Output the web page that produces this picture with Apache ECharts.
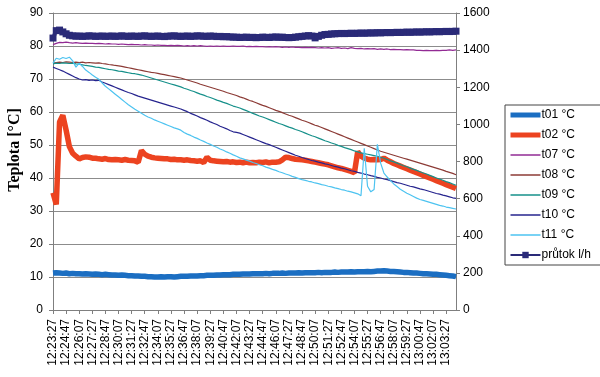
<!DOCTYPE html>
<html>
<head>
<meta charset="utf-8">
<script src="https://cdn.jsdelivr.net/npm/echarts@6/dist/echarts.min.js"></script>
<style>
  html, body { margin: 0; padding: 0; background: #fff; }
  #chart { width: 600px; height: 377px; }
</style>
</head>
<body>
<div id="chart"></div>
<script>
// time stamps, one sample every 20 s
let times = [
  "12:23:27","12:23:47","12:24:07","12:24:27", "12:24:47","12:25:07","12:25:27","12:25:47",
  "12:26:07","12:26:27","12:26:47","12:27:07", "12:27:27","12:27:47","12:28:07","12:28:27",
  "12:28:47","12:29:07","12:29:27","12:29:47", "12:30:07","12:30:27","12:30:47","12:31:07",
  "12:31:27","12:31:47","12:32:07","12:32:27", "12:32:47","12:33:07","12:33:27","12:33:47",
  "12:34:07","12:34:27","12:34:47","12:35:07", "12:35:27","12:35:47","12:36:07","12:36:27",
  "12:36:47","12:37:07","12:37:27","12:37:47", "12:38:07","12:38:27","12:38:47","12:39:07",
  "12:39:27","12:39:47","12:40:07","12:40:27", "12:40:47","12:41:07","12:41:27","12:41:47",
  "12:42:07","12:42:27","12:42:47","12:43:07", "12:43:27","12:43:47","12:44:07","12:44:27",
  "12:44:47","12:45:07","12:45:27","12:45:47", "12:46:07","12:46:27","12:46:47","12:47:07",
  "12:47:27","12:47:47","12:48:07","12:48:27", "12:48:47","12:49:07","12:49:27","12:49:47",
  "12:50:07","12:50:27","12:50:47","12:51:07", "12:51:27","12:51:47","12:52:07","12:52:27",
  "12:52:47","12:53:07","12:53:27","12:53:47", "12:54:07","12:54:27","12:54:47","12:55:07",
  "12:55:27","12:55:47","12:56:07","12:56:27", "12:56:47","12:57:07","12:57:27","12:57:47",
  "12:58:07","12:58:27","12:58:47","12:59:07", "12:59:27","12:59:47","13:00:07","13:00:27",
  "13:00:47","13:01:07","13:01:27","13:01:47", "13:02:07","13:02:27","13:02:47","13:03:07",
  "13:03:27","13:03:47","13:04:07","13:04:27"
];

let t01 = [
  11.2,11.3,11.2,11.1, 11.2,11.0,11.1,11.0, 11.0,10.9,11.0,10.9, 10.8,10.9,10.8,10.7,
  10.8,10.7,10.6,10.6, 10.5,10.6,10.5,10.4, 10.4,10.3,10.3,10.2, 10.2,10.1,10.1,10.0,
  10.0,10.1,10.0,10.1, 10.1,10.0,10.1,10.2, 10.2,10.2,10.3,10.3, 10.3,10.4,10.4,10.5,
  10.5,10.5,10.6,10.6, 10.7,10.7,10.7,10.8, 10.8,10.8,10.9,10.9, 10.9,11.0,11.0,11.0,
  11.0,11.1,11.0,11.1, 11.1,11.1,11.2,11.1, 11.2,11.2,11.2,11.3, 11.2,11.3,11.3,11.3,
  11.3,11.4,11.3,11.4, 11.4,11.4,11.5,11.4, 11.5,11.5,11.5,11.6, 11.5,11.6,11.6,11.6,
  11.7,11.6,11.7,11.8, 11.8,11.9,11.8,11.7, 11.7,11.6,11.5,11.4, 11.4,11.3,11.2,11.2,
  11.1,11.0,11.0,10.9, 10.8,10.8,10.7,10.6, 10.5,10.4,10.3,10.1
];
let t02 = [
  35.5,32.0,57.0,59.0, 54.5,49.5,47.5,46.6, 45.8,46.2,46.4,46.3, 46.0,46.0,45.8,45.7,
  45.9,45.6,45.5,45.6, 45.5,45.4,45.6,45.4, 45.3,45.2,44.8,48.3, 47.2,46.6,46.3,46.1,
  46.0,45.9,45.8,45.8, 45.6,45.7,45.5,45.5, 45.4,45.5,45.3,45.2, 45.1,45.2,44.7,46.3,
  45.4,45.2,45.1,45.0, 44.9,45.0,44.8,44.9, 44.7,44.8,44.6,44.8, 44.6,44.7,44.6,44.8,
  44.7,44.9,44.6,44.8, 44.8,44.9,45.5,46.3, 46.2,45.9,45.7,45.6, 45.5,45.4,45.2,45.0,
  44.8,44.6,44.4,44.2, 44.0,43.7,43.4,43.1, 42.9,42.6,42.3,42.0, 41.6,48.0,46.6,46.0,
  45.7,45.5,45.6,45.5, 45.6,46.0,45.4,44.9, 44.4,44.0,43.6,43.2, 42.8,42.4,42.0,41.6,
  41.2,40.8,40.4,40.0, 39.6,39.2,38.8,38.4, 38.0,37.6,37.2,36.8
];
let t07 = [
  80.4,80.8,81.1,81.0, 81.2,81.0,80.9,81.0, 80.9,80.8,80.9,80.8, 80.8,80.7,80.8,80.7,
  80.6,80.7,80.6,80.6, 80.5,80.6,80.5,80.4, 80.5,80.4,80.4,80.3, 80.4,80.3,80.3,80.2,
  80.3,80.2,80.2,80.1, 80.2,80.1,80.2,80.1, 80.0,80.1,80.0,80.1, 80.0,80.1,80.0,79.9,
  80.0,79.9,80.0,79.9, 80.0,79.9,79.9,80.0, 79.9,79.9,80.0,79.8, 79.9,79.8,79.9,79.8,
  79.8,79.7,79.8,79.7, 79.8,79.7,79.6,79.7, 79.6,79.7,79.6,79.6, 79.5,79.6,79.5,79.6,
  79.5,79.4,79.5,79.4, 79.5,79.3,79.4,79.5, 79.3,79.4,79.2,79.5, 79.3,79.2,79.3,79.1,
  79.2,79.1,79.2,79.0, 79.1,79.0,79.1,78.9, 79.0,78.9,78.9,78.8, 78.9,78.8,78.8,78.7,
  78.7,78.6,78.7,78.6, 78.6,78.7,78.6,78.7, 78.7,78.8,78.7,78.8
];
let t08 = [
  74.8,75.0,75.1,75.0,75.2,75.1,75.0,75.1,75.0,75.1,74.9,75.0,74.9,74.8,74.9,
  74.7,74.6,74.4,74.3,74.1,74.0,73.8,73.6,73.4,73.2,73.0,72.8,
  72.6,72.4,72.2,72.0,71.9,71.7,71.5,71.3,71.1,70.9,70.7,70.5,70.3,
  70.0,69.7,69.4,69.1,68.8,68.4,68.1,67.8,67.5,67.2,66.9,66.6,66.3,65.9,65.6,65.3,65.0,64.6,
  64.3,63.9,63.5,63.2,62.8,62.4,62.0,61.7,61.3,60.9,60.5,60.2,59.8,59.4,59.0,58.7,58.3,57.9,
  57.5,57.2,56.8,56.4,56.0,55.7,55.3,54.9,54.5,54.1,
  53.7,53.3,52.9,52.5,52.1,51.7,51.3,50.9,50.5,50.1,49.7,49.3,48.9,48.5,48.1,
  47.8,47.5,47.2,46.9,46.6,46.3,46.0,45.7,45.4,45.1,44.8,44.5,44.2,43.9,43.6,43.3,
  43.0,42.7,42.4,42.0,41.7,41.4,41.0
];
let t09 = [
  74.6,74.8,74.7,74.9,74.8,74.7,74.8,
  74.6,74.5,74.3,74.1,74.0,73.8,73.6,73.5,73.3,73.1,72.9,72.8,72.6,72.4,72.3,72.1,71.9,71.7,71.6,71.4,71.2,
  70.9,70.6,70.3,70.0,69.7,69.4,69.1,68.8,68.5,68.2,67.9,67.6,
  67.2,66.9,66.5,66.2,65.8,65.4,65.1,64.7,64.4,64.0,63.6,63.3,62.9,62.6,62.2,61.8,61.5,61.2,
  60.8,60.4,60.0,59.6,59.2,58.8,58.5,58.1,57.7,57.3,56.9,56.5,56.2,55.8,55.4,55.1,54.7,54.4,
  54.0,53.6,53.2,52.8,52.5,52.1,51.7,51.3,51.0,50.6,
  50.3,49.9,49.6,49.2,48.9,48.6,48.2,47.9,47.6,47.4,47.2,47.0,46.8,46.6,46.3,
  46.0,45.6,45.2,44.9,44.5,44.1,43.7,43.4,43.0,42.6,42.3,41.9,41.5,41.2,40.8,40.4,
  40.0,39.7,39.3,38.9,38.6,38.2,37.8
];
let t10 = [
  73.6,73.2,72.8,72.4,71.9, 71.4,70.9,70.4,70.0,69.7, 69.8,69.6,69.7,69.5,69.6,
  69.1,68.7,68.3,67.9,67.5,67.1,66.7,66.3,65.9,65.6,65.2,64.8,64.5,
  64.2,63.9,63.6,63.3,63.0,62.7,62.4,62.1,61.8,61.5,61.2,60.9,
  60.5,60.1,59.6,59.2,58.8,58.3,57.9,57.5,57.0,56.6,56.2,55.7,55.3,54.9,54.4,54.0,53.8,53.6,
  53.2,52.8,52.4,52.0,51.6,51.2,50.8,50.4,50.1,49.7,49.3,48.9,48.5,48.1,47.7,47.3,46.9,46.6,
  46.2,45.9,45.6,
  45.3,45.1,44.8,44.6,44.3,44.1,43.8,43.5,43.3,43.0,42.8,42.5,42.2,42.0,41.7,41.5,41.2,41.0,
  40.7,40.5,40.2,40.0,
  39.7,39.5,39.2,38.9,38.6,38.4,38.1,37.8,37.5,37.3,37.0,36.7,36.5,36.2,35.9,35.6,35.3,35.1,
  34.8,34.6,34.3,34.0,33.8
];
let t11 = [
  74.8,76.3,76.0,76.5,76.2,76.6,
  75.5,73.6,74.8,73.8,72.7,72.0,71.2,70.5,69.9,68.8,67.8,67.0,66.2,65.4,64.6,63.8,63.0,62.2,
  61.5,60.8,60.2,59.6,
  59.0,58.5,58.1,57.6,57.2,56.8,56.4,56.0,55.6,55.2,54.9,54.5,
  53.8,53.3,52.9,52.4,52.0,51.5,51.1,50.6,50.2,49.7,49.3,48.8,48.4,47.9,47.5,47.0,46.6,46.1,
  45.8,45.4,45.1,44.7,44.4,44.0,43.7,43.3,43.0,42.6,42.3,41.9,41.6,41.2,40.9,40.5,40.2,39.8,39.5,
  39.3,39.0,38.8,38.5,38.3,38.0,37.8,37.5,37.3,37.0,36.8,36.5,36.3,36.0,35.8,35.5,35.2,34.6,
  49.0,37.5,35.8,36.5,50.2,44.5,41.5,40.3,39.2,38.2,37.4,36.6,36.0,35.4,34.9,34.4,33.9,33.5,
  33.2,32.9,32.6,32.3,32.0,31.7,31.5,31.2,31.0,30.8,30.6
];
// flow, right axis
let prutok = [
  1465,1505,1508,1498, 1488,1480,1477,1475, 1476,1474,1475,1477, 1476,1474,1475,1476,
  1474,1475,1476,1474, 1475,1477,1475,1474, 1476,1475,1474,1476, 1477,1475,1474,1475,
  1476,1474,1473,1475, 1476,1477,1475,1474, 1475,1476,1474,1475, 1477,1476,1475,1474,
  1476,1475,1473,1474, 1472,1473,1471,1470, 1470,1468,1469,1470, 1468,1469,1467,1468,
  1470,1469,1468,1470, 1471,1469,1470,1468, 1467,1468,1470,1472, 1474,1476,1478,1476,
  1466,1474,1480,1484, 1485,1487,1488,1489, 1490,1489,1490,1491, 1490,1491,1492,1491,
  1492,1493,1492,1494, 1493,1494,1495,1494, 1495,1496,1495,1496, 1497,1496,1497,1498,
  1497,1498,1499,1498, 1499,1500,1499,1500, 1501,1500,1501,1502
];

let chart = echarts.init(document.getElementById("chart"));
let font = "Liberation Sans, Arial, sans-serif";

function thin(name, data, color) {
  return {
    name: name, type: "line", data: data, yAxisIndex: 0,
    symbol: "none", lineStyle: { width: 1.2, color: color }, itemStyle: { color: color }
  };
}
// legend entry: line only, no marker
function lineOnly(name, w) {
  return { name: name, itemStyle: { opacity: 0 }, lineStyle: { width: w } };
}

let option = {
  animation: false,
  backgroundColor: "#fff",
  textStyle: { fontFamily: font },
  grid: { left: 53, right: 144, top: 13, bottom: 67, containLabel: false, outerBoundsMode: "none" },
  graphic: [{
    type: "text", x: 15, y: 150, rotation: Math.PI / 2,
    style: {
      text: "Teplota [°C]", fill: "#000", align: "center", verticalAlign: "middle",
      font: "bold 16px 'Liberation Serif', 'Times New Roman', serif"
    }
  }],
  legend: {
    orient: "vertical",
    left: 505,
    top: 105,
    padding: [4, 30, 4, 3],
    itemWidth: 30,
    itemHeight: 8,
    itemGap: 8,
    backgroundColor: "#fff",
    borderColor: "#444",
    borderWidth: 1,
    borderRadius: 0,
    textStyle: { fontFamily: font, fontSize: 12, color: "#000", padding: [0, 0, 0, -4] },
    data: [
      lineOnly("t01 °C", 5), lineOnly("t02 °C", 5),
      lineOnly("t07 °C", 1.5), lineOnly("t08 °C", 1.5), lineOnly("t09 °C", 1.5),
      lineOnly("t10 °C", 1.5), lineOnly("t11 °C", 1.5),
      { name: "průtok l/h", lineStyle: { width: 2 } }
    ]
  },
  xAxis: {
    type: "category",
    data: times,
    boundaryGap: false,
    axisLine: { lineStyle: { color: "#7f7f7f" } },
    axisTick: { show: true, interval: 3, length: 4, lineStyle: { color: "#7f7f7f" } },
    axisLabel: { interval: 3, rotate: 90, margin: 9, color: "#000", fontSize: 12, fontFamily: font },
    splitLine: { show: false }
  },
  yAxis: [
    {
      type: "value", min: 0, max: 90, interval: 10, position: "left",
      axisLine: { show: true, lineStyle: { color: "#7f7f7f" } },
      axisTick: { show: true, length: 4, lineStyle: { color: "#7f7f7f" } },
      axisLabel: { margin: 10, color: "#000", fontSize: 12, fontFamily: font },
      splitLine: { show: true, lineStyle: { color: "#8c8c8c", width: 1 } }
    },
    {
      type: "value", min: 0, max: 1600, interval: 200, position: "right",
      axisLine: { show: true, lineStyle: { color: "#7f7f7f" } },
      axisTick: { show: true, length: 4, lineStyle: { color: "#7f7f7f" } },
      axisLabel: { margin: 7, color: "#000", fontSize: 12, fontFamily: font,
        formatter: function (v) { return String(v); } },
      splitLine: { show: false }
    }
  ],
  series: [
    {
      name: "t01 °C", type: "line", data: t01, yAxisIndex: 0, symbol: "none",
      lineStyle: { width: 5.5, color: "#1b6ec2" }, itemStyle: { color: "#1b6ec2" }
    },
    {
      name: "t02 °C", type: "line", data: t02, yAxisIndex: 0, symbol: "none",
      lineStyle: { width: 5.5, color: "#ec4320" }, itemStyle: { color: "#ec4320" }
    },
    thin("t07 °C", t07, "#922b94"),
    thin("t08 °C", t08, "#8c3b36"),
    thin("t09 °C", t09, "#16908a"),
    thin("t10 °C", t10, "#26248e"),
    thin("t11 °C", t11, "#4dc3f0"),
    {
      name: "průtok l/h", type: "line", data: prutok, yAxisIndex: 1,
      symbol: "rect", symbolSize: 7, showAllSymbol: true,
      lineStyle: { width: 4, color: "#2a2a78" }, itemStyle: { color: "#2a2a78" }
    }
  ]
};
chart.setOption(option);
</script>
</body>
</html>
